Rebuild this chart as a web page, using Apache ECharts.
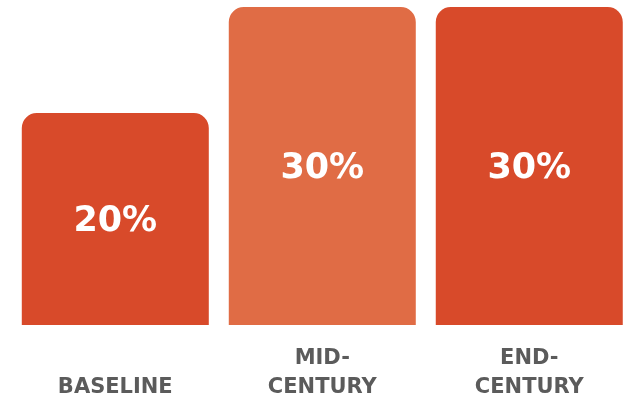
<!DOCTYPE html>
<html>
<head>
<meta charset="utf-8">
<script src="https://cdn.jsdelivr.net/npm/echarts@6/dist/echarts.min.js"></script>
<style>
  html, body { margin: 0; padding: 0; background: #ffffff; }
  #chart { width: 628px; height: 400px; }
</style>
</head>
<body>
<div id="chart"></div>
<script>
// Share of value by period
const categories = ['BASELINE', 'MID-\nCENTURY', 'END-\nCENTURY'];
const values = [20, 30, 30];
const barColors = ['#D84A2A', '#E06C45', '#D84A2A'];

// Bars sit at integer slots 0..n-1 on a numeric x axis so the
// slot spacing can be tuned independently of the page width.
const slots = categories.map((_, i) => i);

const chart = echarts.init(document.getElementById('chart'), null, { renderer: 'canvas' });

chart.setOption({
  animation: false,
  grid: {
    left: 0, right: 0, top: 7, bottom: 75,
    containLabel: false,
    outerBoundsMode: 'none'
  },
  xAxis: {
    type: 'value',
    min: -0.557,
    max: 2.477,
    splitLine: { show: false },
    axisLine: { show: false },
    axisTick: { show: false },
    axisLabel: {
      customValues: slots,
      formatter: (v) => categories[Math.round(v)],
      margin: 77,
      verticalAlign: 'bottom',
      color: '#5b5b5b',
      fontFamily: 'DejaVu Sans',
      fontWeight: 'bold',
      fontSize: 21,
      lineHeight: 29
    }
  },
  yAxis: {
    type: 'value',
    min: 0,
    max: 30,
    show: false,
    splitLine: { show: false }
  },
  series: [{
    type: 'bar',
    barWidth: 187,
    data: values.map((v, i) => ({
      value: [slots[i], v],
      itemStyle: { color: barColors[i] }
    })),
    itemStyle: { borderRadius: [15, 15, 0, 0] },
    label: {
      show: true,
      position: 'inside',
      offset: [0, 3],
      formatter: (p) => p.value[1] + '%',
      color: '#ffffff',
      fontFamily: 'DejaVu Sans',
      fontWeight: 'bold',
      fontSize: 35
    }
  }]
});
</script>
</body>
</html>
